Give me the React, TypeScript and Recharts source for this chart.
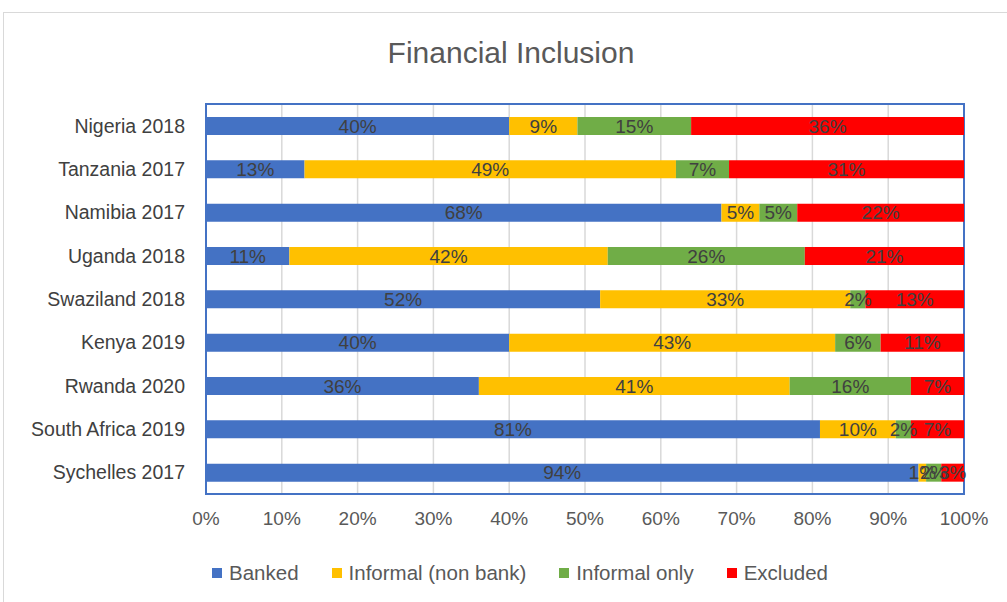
import { BarChart, Bar, XAxis, YAxis, CartesianGrid, LabelList, ReferenceArea } from 'recharts'

const countries = ['Nigeria 2018', 'Tanzania 2017', 'Namibia 2017', 'Uganda 2018', 'Swaziland 2018', 'Kenya 2019', 'Rwanda 2020', 'South Africa 2019', 'Sychelles 2017']
const banked = [40, 13, 68, 11, 52, 40, 36, 81, 94]
const informalNonBank = [9, 49, 5, 42, 33, 43, 41, 10, 1]
const informalOnly = [15, 7, 5, 26, 2, 6, 16, 2, 2]
const excluded = [36, 31, 22, 21, 13, 11, 7, 7, 3]
const xTicks = [0, 10, 20, 30, 40, 50, 60, 70, 80, 90, 100]

const data = countries.map((name, i) => ({
  name,
  banked: banked[i],
  informal: informalNonBank[i],
  informalOnly: informalOnly[i],
  excluded: excluded[i],
}))

const font = '"Liberation Sans", Arial, sans-serif'

const series = [
  { key: 'banked', label: 'Banked', color: '#4472C4' },
  { key: 'informal', label: 'Informal (non bank)', color: '#FFC000' },
  { key: 'informalOnly', label: 'Informal only', color: '#70AD47' },
  { key: 'excluded', label: 'Excluded', color: '#FF0000' },
]

export default function App() {
  return (
    <div style={{ position: 'absolute', left: 0, top: 0, width: 1007, height: 602, background: '#fff', fontFamily: font, overflow: 'hidden' }}>
      <div style={{ position: 'absolute', left: 3, top: 12, width: 1020, height: 600, border: '1px solid #d9d9d9' }} />
      <div style={{ position: 'absolute', left: 0, top: 36, width: 1022, textAlign: 'center', fontSize: 30, color: '#595959' }}>
        Financial Inclusion
      </div>
      <BarChart
        width={1007}
        height={602}
        data={data}
        layout="vertical"
        margin={{ top: 104, right: 43, bottom: 62, left: 6 }}
        barSize={18}
        style={{ position: 'absolute', left: 0, top: 0 }}
      >
        <CartesianGrid horizontal={false} stroke="#d9d9d9" strokeWidth={1.5} />
        <XAxis
          type="number"
          domain={[0, 100]}
          ticks={xTicks}
          tickFormatter={(v) => `${v}%`}
          axisLine={false}
          tickLine={false}
          tickSize={0}
          tickMargin={18}
          height={46}
          tick={{ fill: '#595959', fontSize: 19, fontFamily: font }}
        />
        <YAxis
          type="category"
          dataKey="name"
          width={200}
          axisLine={false}
          tickLine={false}
          tickSize={0}
          tickMargin={21}
          tick={{ fill: '#404040', fontSize: 19.5, fontFamily: font }}
        />
        {series.map((s) => (
          <Bar key={s.key} dataKey={s.key} name={s.label} stackId="a" fill={s.color} isAnimationActive={false}>
            <LabelList
              dataKey={s.key}
              position="center"
              formatter={(v: any) => `${v}%`}
              style={{ fill: '#404040', fontSize: 19, fontFamily: font }}
            />
          </Bar>
        ))}
        <ReferenceArea x1={0} x2={100} fill="none" stroke="#4472C4" strokeWidth={2} ifOverflow="visible" />
      </BarChart>
      <div style={{ position: 'absolute', left: 212, top: 561, display: 'flex', alignItems: 'center', gap: 33, fontSize: 20.5, color: '#595959' }}>
        {series.map((s) => (
          <div key={s.key} style={{ display: 'flex', alignItems: 'center' }}>
            <span style={{ display: 'inline-block', width: 10, height: 10, background: s.color, marginRight: 7 }} />
            <span>{s.label}</span>
          </div>
        ))}
      </div>
    </div>
  )
}
